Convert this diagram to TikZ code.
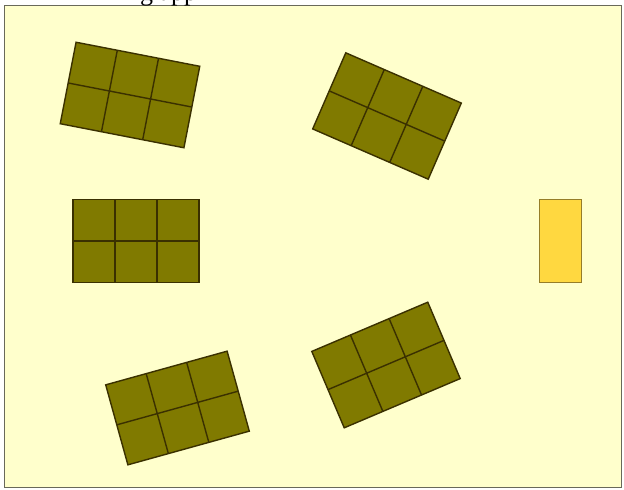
\documentclass[tikz,border=0pt]{standalone}
\usepackage{fontspec}
\setmainfont{Liberation Serif}
\usepackage{tikz}
\usetikzlibrary{positioning}
\definecolor{canvascolor}{RGB}{255,255,204}
\definecolor{framecolor}{RGB}{105,105,90}
\definecolor{tilecolor}{RGB}{128,122,0}
\definecolor{tileline}{RGB}{58,48,0}
\definecolor{goldcolor}{RGB}{255,216,64}
\definecolor{goldline}{RGB}{150,125,40}
\tikzset{
  canvas/.style={
    draw=framecolor,
    fill=canvascolor,
    line width=1pt
  },
  tray/.style={
    draw=tileline,
    fill=tilecolor,
    line width=1.4pt
  },
  tray line/.style={
    draw=tileline,
    line width=1.4pt
  },
  gold box/.style={
    draw=goldline,
    fill=goldcolor,
    line width=1pt,
    inner sep=0pt,
    minimum width=42pt,
    minimum height=83pt
  }
}

\begin{document}
\begin{tikzpicture}[x=1pt, y=-1pt]
  \useasboundingbox (0,0) rectangle (624,490);
  % Canvas
  \draw[canvas] (4,5) rectangle (621,487);
  \node[anchor=base west, inner sep=0pt, font=\fontsize{26}{26}\selectfont] (title) at (140,0.5) {g app};

  % Trays: centre x / centre y / angle
  \foreach \cx/\cy/\ang in {130/95/-11, 387/116/-23.5, 136/241/0, 177.5/408/15.5, 386/365/23}{
    \begin{scope}[shift={(\cx,\cy)}, rotate=\ang]
      \draw[tray] (-63,-41.5) rectangle (63,41.5);
      \draw[tray line] (-21,-41.5) -- (-21,41.5) (21,-41.5) -- (21,41.5) (-63,0) -- (63,0);
    \end{scope}
  }

  % Single box
  \node[gold box] (box) at (560,240.5) {};
\end{tikzpicture}
\end{document}
